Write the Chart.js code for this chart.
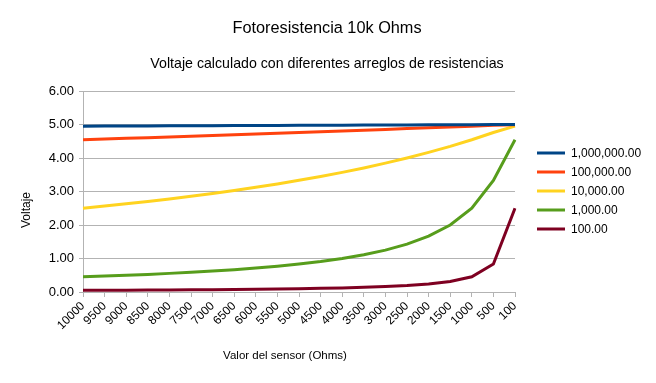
<!DOCTYPE html>
<html>
<head>
<meta charset="utf-8">
<script src="https://cdn.jsdelivr.net/npm/chart.js@4"></script>
<style>
  html, body { margin: 0; padding: 0; background: #fff; }
  #wrap { width: 656px; height: 383px; }
</style>
</head>
<body>
<div id="wrap"><canvas id="chart" width="656" height="383"></canvas></div>
<script>
const sensorLabels = ["10000","9500","9000","8500","8000","7500","7000","6500","6000","5500","5000","4500","4000","3500","3000","2500","2000","1500","1000","500","100"];

const seriesNames = ["1,000,000.00", "100,000.00", "10,000.00", "1,000.00", "100.00"];
const seriesColors = ["#004586", "#ff420e", "#ffd320", "#579d1c", "#7e0021"];

const v1M   = [4.950,4.953,4.955,4.958,4.960,4.963,4.965,4.968,4.970,4.973,4.975,4.978,4.980,4.983,4.985,4.988,4.990,4.993,4.995,4.998,5.000];
const v100k = [4.545,4.566,4.587,4.608,4.630,4.651,4.673,4.695,4.717,4.739,4.762,4.785,4.808,4.831,4.854,4.878,4.902,4.926,4.950,4.975,4.995];
const v10k  = [2.500,2.564,2.632,2.703,2.778,2.857,2.941,3.030,3.125,3.226,3.333,3.448,3.571,3.704,3.846,4.000,4.167,4.348,4.545,4.762,4.950];
const v1k   = [0.455,0.476,0.500,0.526,0.556,0.588,0.625,0.667,0.714,0.769,0.833,0.909,1.000,1.111,1.250,1.429,1.667,2.000,2.500,3.333,4.545];
const v100  = [0.050,0.052,0.055,0.058,0.062,0.066,0.070,0.076,0.082,0.089,0.098,0.109,0.122,0.139,0.161,0.192,0.238,0.313,0.455,0.833,2.500];

const seriesValues = [v1M, v100k, v10k, v1k, v100];

const chartTitle = "Fotoresistencia 10k Ohms";
const chartSubtitle = "Voltaje calculado con diferentes arreglos de resistencias";
const xTitle = "Valor del sensor (Ohms)";
const yTitle = "Voltaje";

const FONT = "'Liberation Sans', Arial, sans-serif";

/* titles, axis titles and the side legend (placed like the office chart) */
const chartText = {
    id: "chartText",
    afterDraw(chart) {
        const ctx = chart.ctx;
        ctx.save();
        ctx.fillStyle = "#000";
        ctx.textAlign = "center";
        ctx.textBaseline = "alphabetic";

        ctx.font = "16.3px " + FONT;
        ctx.fillText(chartTitle, 327, 33);
        ctx.font = "14.2px " + FONT;
        ctx.fillText(chartSubtitle, 327, 68);

        ctx.font = "11.5px " + FONT;
        ctx.fillText(xTitle, 285, 359);

        ctx.save();
        ctx.translate(27, 210);
        ctx.rotate(-Math.PI / 2);
        ctx.font = "12px " + FONT;
        ctx.textBaseline = "middle";
        ctx.fillText(yTitle, 0, 0);
        ctx.restore();

        ctx.font = "12px " + FONT;
        ctx.textBaseline = "middle";
        ctx.textAlign = "left";
        chart.data.datasets.forEach((ds, i) => {
            const y = 153 + i * 19;
            ctx.strokeStyle = ds.borderColor;
            ctx.lineWidth = 3;
            ctx.beginPath();
            ctx.moveTo(537, y);
            ctx.lineTo(565, y);
            ctx.stroke();
            ctx.fillText(ds.label, 571, y + 0.5);
        });
        ctx.restore();
    }
};

new Chart(document.getElementById("chart"), {
    type: "line",
    data: {
        labels: sensorLabels,
        datasets: seriesNames.map((name, i) => ({
            label: name,
            data: seriesValues[i],
            borderColor: seriesColors[i],
            backgroundColor: seriesColors[i],
            borderWidth: 3,
            pointRadius: 0,
            tension: 0,
            fill: false
        }))
    },
    options: {
        responsive: false,
        animation: false,
        layout: { padding: { top: 91, left: 0, right: 141, bottom: 0 } },
        plugins: {
            legend: { display: false },
            tooltip: { enabled: false },
            title: { display: false }
        },
        scales: {
            x: {
                afterFit: s => { s.height = 91; },
                grid: { drawOnChartArea: false, drawTicks: true, tickLength: 5, color: "#b3b3b3" },
                border: { color: "#b3b3b3" },
                ticks: {
                    autoSkip: false,
                    minRotation: 45,
                    maxRotation: 45,
                    padding: 2,
                    color: "#000",
                    font: { family: FONT, size: 12 }
                }
            },
            y: {
                min: 0,
                max: 6,
                afterFit: s => { s.width = 83; },
                grid: { color: "#b3b3b3", tickLength: 4 },
                border: { color: "#b3b3b3" },
                ticks: {
                    stepSize: 1,
                    padding: 5,
                    color: "#000",
                    font: { family: FONT, size: 13 },
                    callback: v => Number(v).toFixed(2)
                }
            }
        }
    },
    plugins: [chartText]
});
</script>
</body>
</html>
